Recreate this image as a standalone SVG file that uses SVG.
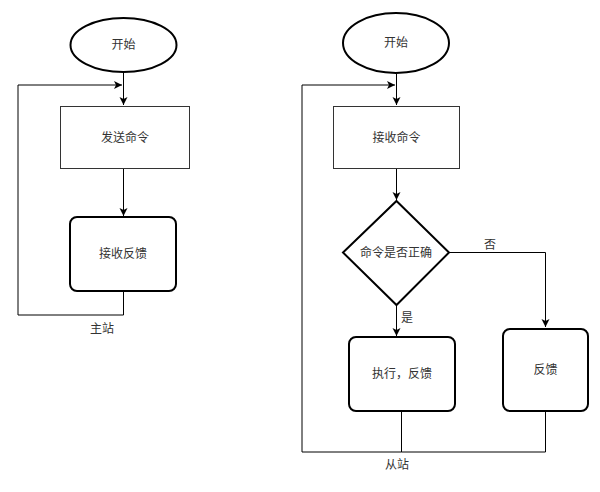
<svg xmlns="http://www.w3.org/2000/svg" width="600" height="492" viewBox="0 0 600 492">
<defs>
<marker id="arr" markerWidth="10" markerHeight="10" refX="9" refY="5" orient="auto" markerUnits="userSpaceOnUse">
<path d="M1,1 L9,5 L1,9 L3,5 Z" fill="#000"/>
</marker>
<style>
text{font-family:"Liberation Sans","Noto Sans CJK SC",sans-serif;font-size:12px;fill:#333;text-anchor:middle;dominant-baseline:central}
.thick{fill:#fff;stroke:#000;stroke-width:2}
.thin{fill:#fff;stroke:#333;stroke-width:1}
.edge{fill:none;stroke:#000;stroke-width:1}
</style>
</defs>
<rect width="600" height="492" fill="#fff"/>
<g id="connectors">
<path class="edge" d="M123.5,72 V105" marker-end="url(#arr)"/>
<path class="edge" d="M123.5,169 V216" marker-end="url(#arr)"/>
<path class="edge" d="M123.5,291 V315 H18 V85 H122" marker-end="url(#arr)"/>
<path class="edge" d="M396.5,74 V105" marker-end="url(#arr)"/>
<path class="edge" d="M396.5,169 V200" marker-end="url(#arr)"/>
<path class="edge" d="M396.5,305 V336" marker-end="url(#arr)"/>
<path class="edge" d="M449,252.5 H545.5 V327" marker-end="url(#arr)"/>
<path class="edge" d="M401.5,411 V452 H302 V85 H395" marker-end="url(#arr)"/>
<path class="edge" d="M545.5,411 V452 H401.5"/>
<text x="407" y="318">是</text>
<text x="490" y="245">否</text>
</g>
<g id="start1"><ellipse class="thick" cx="123.5" cy="45" rx="53" ry="27"/><text x="123.5" y="45">开始</text></g>
<g id="send"><rect class="thin" x="60.5" y="106.5" width="129" height="62"/><text x="125" y="137.5">发送命令</text></g>
<g id="recvfb"><rect class="thick" x="70" y="217" width="106" height="74" rx="7"/><text x="123" y="254">接收反馈</text></g>
<text id="master" x="102" y="329">主站</text>
<g id="start2"><ellipse class="thick" cx="396" cy="43" rx="53" ry="30"/><text x="396" y="43">开始</text></g>
<g id="recvcmd"><rect class="thin" x="333.5" y="106.5" width="126" height="62"/><text x="396.5" y="137.5">接收命令</text></g>
<g id="check"><path class="thick" d="M396.5,201 L449,252.5 L396.5,305 L343,252.5 Z"/><text x="396" y="253">命令是否正确</text></g>
<g id="exec"><rect class="thick" x="349" y="337" width="106" height="74" rx="7"/><text x="402" y="374">执行，反馈</text></g>
<g id="fb"><rect class="thick" x="503" y="329" width="85" height="82" rx="7"/><text x="545.5" y="370">反馈</text></g>
<text id="slave" x="397" y="465">从站</text>
</svg>
